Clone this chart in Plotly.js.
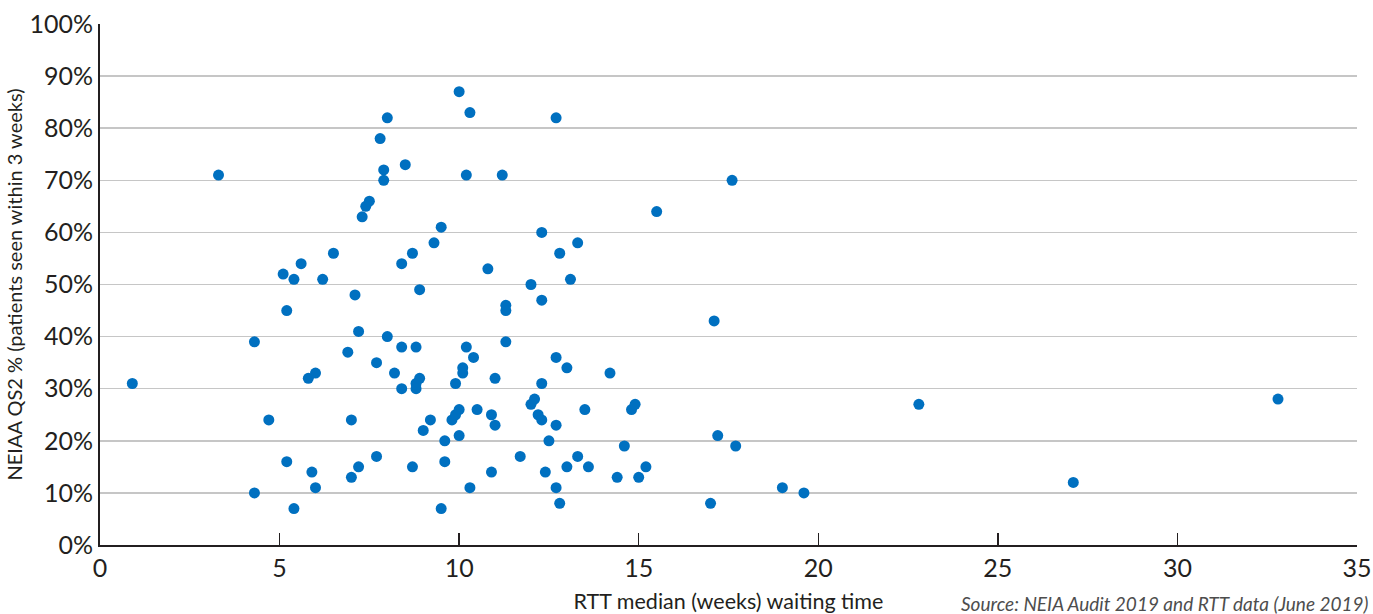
<!DOCTYPE html>
<html>
<head>
<meta charset="utf-8">
<script src="https://cdn.plot.ly/plotly-3.0.1.min.js"></script>
<style>
html,body{margin:0;padding:0;background:#fff;}
#chart{width:1373px;height:614px;}
</style>
</head>
<body>
<div id="chart"></div>
<script>
// RTT median waiting time (weeks)
const rttWeeks = [
  0.9, 3.3, 4.3, 4.3, 4.7, 5.1, 5.4, 5.6, 5.2, 5.2,
  5.4, 5.8, 6.0, 5.9, 6.0, 6.2, 6.5, 6.9, 7.1, 7.0,
  7.0, 7.2, 7.2, 7.3, 7.4, 7.5, 7.7, 7.7, 7.8, 7.9,
  7.9, 8.0, 8.0, 8.2, 8.4, 8.4, 8.4, 8.5, 8.7, 8.7,
  8.8, 8.8, 8.8, 8.9, 8.9, 9.0, 9.2, 9.3, 9.5, 9.5,
  9.6, 9.6, 9.8, 9.9, 9.9, 10.0, 10.0, 10.0, 10.1, 10.1,
  10.2, 10.2, 10.3, 10.3, 10.4, 10.5, 10.8, 10.9, 10.9, 11.0,
  11.0, 11.2, 11.3, 11.3, 11.3, 11.7, 12.0, 12.0, 12.1, 12.2,
  12.3, 12.3, 12.3, 12.3, 12.4, 12.5, 12.7, 12.7, 12.7, 12.7,
  12.8, 12.8, 13.0, 13.0, 13.1, 13.3, 13.3, 13.5, 13.6, 14.2,
  14.4, 14.6, 14.8, 14.9, 15.0, 15.2, 15.5, 17.0, 17.1, 17.2,
  17.6, 17.7, 19.0, 19.6, 22.8, 27.1, 32.8
];
// NEIAA QS2 % (patients seen within 3 weeks)
const qs2Pct = [
  31, 71, 39, 10, 24, 52, 51, 54, 45, 16,
  7, 32, 33, 14, 11, 51, 56, 37, 48, 24,
  13, 41, 15, 63, 65, 66, 35, 17, 78, 72,
  70, 82, 40, 33, 54, 38, 30, 73, 56, 15,
  38, 31, 30, 49, 32, 22, 24, 58, 61, 7,
  20, 16, 24, 31, 25, 87, 26, 21, 33, 34,
  71, 38, 83, 11, 36, 26, 53, 25, 14, 32,
  23, 71, 46, 45, 39, 17, 50, 27, 28, 25,
  60, 47, 31, 24, 14, 20, 82, 36, 23, 11,
  56, 8, 34, 15, 51, 58, 17, 26, 15, 33,
  13, 19, 26, 27, 13, 15, 64, 8, 43, 21,
  70, 19, 11, 10, 27, 12, 28
];
const xTicks = [0, 5, 10, 15, 20, 25, 30, 35];
const yTicks = [0, 10, 20, 30, 40, 50, 60, 70, 80, 90, 100];
const xTitle = 'RTT median (weeks) waiting time';
const yTitle = 'NEIAA QS2 % (patients seen within 3 weeks)';
const sourceText = 'Source: NEIA Audit 2019 and RTT data (June 2019)';

const trace = {
  type: 'scatter',
  mode: 'markers',
  x: rttWeeks,
  y: qs2Pct,
  marker: {color: '#0070C0', size: 11, line: {width: 0}},
  hoverinfo: 'x+y'
};

const layout = {
  width: 1373,
  height: 614,
  margin: {l: 100, r: 16, t: 24, b: 69},
  paper_bgcolor: '#ffffff',
  plot_bgcolor: '#ffffff',
  font: {family: 'Lato, "Open Sans", sans-serif', color: '#231f20'},
  showlegend: false,
  xaxis: {
    range: [0, 35],
    tickvals: xTicks,
    ticktext: xTicks.map(String),
    ticks: 'inside',
    ticklen: 12,
    tickwidth: 1.5,
    tickcolor: '#231f20',
    showgrid: false,
    zeroline: false,
    showline: true,
    linecolor: '#231f20',
    linewidth: 2,
    tickfont: {size: 25, family: 'Lato', color: '#231f20'},
    title: {text: xTitle, font: {size: 21.5, family: 'Lato', color: '#231f20'}, standoff: 13},
    automargin: false,
    fixedrange: true
  },
  yaxis: {
    range: [0, 100],
    tickvals: yTicks,
    ticktext: yTicks.map(v => v + '%'),
    ticks: '',
    showgrid: true,
    gridcolor: '#c6c6c6',
    gridwidth: 1.5,
    zeroline: false,
    showline: true,
    linecolor: '#231f20',
    linewidth: 2,
    tickfont: {size: 25, family: 'Lato', color: '#231f20'},
    title: {text: yTitle, font: {size: 20, family: 'Lato', color: '#231f20'}, standoff: 1},
    automargin: false,
    fixedrange: true
  },
  annotations: [{
    text: sourceText,
    xref: 'paper', yref: 'paper',
    x: 1, y: 0,
    xanchor: 'right', yanchor: 'middle',
    yshift: -58, xshift: 14,
    showarrow: false,
    font: {size: 19, family: 'Lato', color: '#4d4d4d', style: 'italic'}
  }]
};

Plotly.newPlot('chart', [trace], layout, {displayModeBar: false, staticPlot: true});
</script>
</body>
</html>
